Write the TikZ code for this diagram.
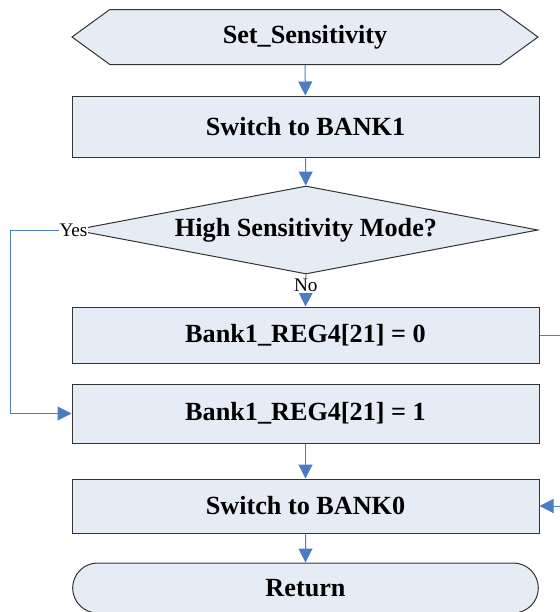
\documentclass[tikz,border=0pt]{standalone}
\usepackage{fontspec}
\setmainfont{Liberation Serif}
\usepackage{xcolor}
\usepackage{tikz}
\usetikzlibrary{shapes,arrows.meta,positioning,calc}

\definecolor{boxfill}{RGB}{230,236,246}
\definecolor{linkblue}{RGB}{74,126,196}

\begin{document}
\begin{tikzpicture}[
    x=0.5pt, y=-0.5pt,
    step box/.style={rectangle, draw=black!80, fill=boxfill, line width=0.5pt, minimum width=233.5pt, font=\fontsize{13.1}{15}\selectfont\bfseries},
    hexa/.style={signal, signal to=west and east, signal pointer angle=72, draw=black!80, fill=boxfill, line width=0.5pt, minimum width=233pt, minimum height=27.5pt, font=\fontsize{13.1}{15}\selectfont\bfseries},
    decide/.style={diamond, draw=black!80, fill=boxfill, line width=0.5pt, minimum width=232pt, minimum height=44pt, inner sep=0pt, aspect=5, font=\fontsize{13.1}{15}\selectfont\bfseries},
    term/.style={rounded rectangle, draw=black!80, fill=boxfill, line width=0.5pt, minimum width=239.5pt, minimum height=25pt, font=\fontsize{13.1}{15}\selectfont\bfseries},
    arrow/.style={-{Triangle[width=7pt, length=7pt]}, draw=linkblue, line width=0.5pt},
    tag/.style={fill=white, inner sep=0.5pt, font=\fontsize{9.6}{11}\selectfont}
]
    \useasboundingbox (0,0) rectangle (560,612);

    \node[hexa] (start) at (305,37) {Set\_Sensitivity};
    \node[step box, minimum height=30.5pt] (bank1) at (305.5,126.5) {Switch to BANK1};
    \node[decide] (mode) at (306,230) {High Sensitivity Mode?};
    \node[step box, minimum height=28pt] (reg0) at (305.5,335) {Bank1\_REG4[21] = 0};
    \node[step box, minimum height=29.5pt] (reg1) at (305.5,413.5) {Bank1\_REG4[21] = 1};
    \node[step box, minimum height=27pt] (bank0) at (305.5,506) {Switch to BANK0};
    \node[term] (ret) at (305.5,588) {Return};

    \coordinate (yesturn) at (10,230);
    \coordinate (rightturn) at (600,335);

    \draw[arrow] (start) -- (bank1);
    \draw[arrow] (bank1) -- (mode);
    \draw[arrow] (mode.south) -- (reg0.north) node[tag, pos=0.35] {No};
    \draw[arrow] (mode.west) -- (yesturn) |- (reg1.west);
    \node[tag] (yes) at (mode.west) {Yes};
    \draw[arrow] (reg0.east) -- (rightturn) |- (bank0.east);
    \draw[arrow] (reg1) -- (bank0);
    \draw[arrow] (bank0) -- (ret);
\end{tikzpicture}
\end{document}
